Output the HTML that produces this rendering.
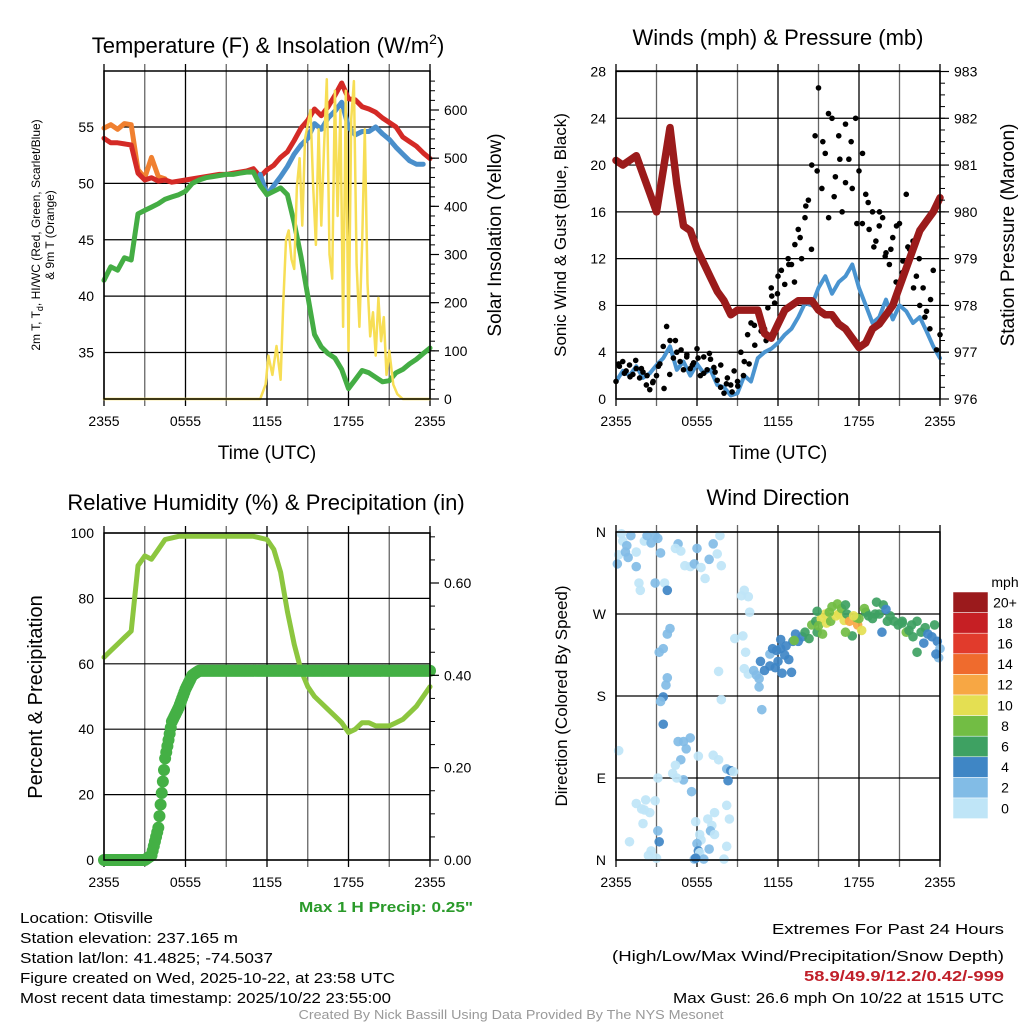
<!DOCTYPE html>
<html><head><meta charset="utf-8"><style>
html,body{margin:0;padding:0;background:#fff}
svg{display:block;font-family:"Liberation Sans",sans-serif}
</style></head><body>
<svg id="fig" width="1024" height="1024" viewBox="0 0 1024 1024" xmlns="http://www.w3.org/2000/svg">
<rect width="1024" height="1024" fill="#fff"/>
<g id="p1"></g>
<g id="p2"></g>
<g id="p3"></g>
<g id="p4"></g>

<text x="268" y="53" font-size="22" text-anchor="middle">Temperature (F) &amp; Insolation (W/m<tspan font-size="14" dy="-9">2</tspan><tspan dy="9">)</tspan></text>
<text x="778" y="45" font-size="22" text-anchor="middle">Winds (mph) &amp; Pressure (mb)</text>
<text x="266" y="510" font-size="22" text-anchor="middle">Relative Humidity (%) &amp; Precipitation (in)</text>
<text x="778" y="505" font-size="22" text-anchor="middle">Wind Direction</text>

<text x="267" y="459" font-size="19" text-anchor="middle">Time (UTC)</text>
<text x="778" y="459" font-size="19" text-anchor="middle">Time (UTC)</text>

<text transform="translate(40,235) rotate(-90)" font-size="12" text-anchor="middle">2m T, T<tspan font-size="9" dy="3">d</tspan><tspan dy="-3">, HI/WC (Red, Green, Scarlet/Blue)</tspan></text>
<text transform="translate(54,235) rotate(-90)" font-size="12" text-anchor="middle">&amp; 9m T (Orange)</text>
<text transform="translate(501,235) rotate(-90)" font-size="19" text-anchor="middle">Solar Insolation (Yellow)</text>
<text transform="translate(566,235) rotate(-90)" font-size="17" text-anchor="middle">Sonic Wind &amp; Gust (Blue, Black)</text>
<text transform="translate(1014,235) rotate(-90)" font-size="19" text-anchor="middle">Station Pressure (Maroon)</text>
<text transform="translate(42,697) rotate(-90)" font-size="20" text-anchor="middle">Percent &amp; Precipitation</text>
<text transform="translate(567,696) rotate(-90)" font-size="17" text-anchor="middle">Direction (Colored By Speed)</text>

<text x="386" y="912" font-size="15" font-weight="bold" fill="#2a9a2a" text-anchor="middle" textLength="174" lengthAdjust="spacingAndGlyphs">Max 1 H Precip: 0.25"</text>

<g font-size="15">
<text x="20" y="923" textLength="133" lengthAdjust="spacingAndGlyphs">Location: Otisville</text>
<text x="20" y="943" textLength="218" lengthAdjust="spacingAndGlyphs">Station elevation: 237.165 m</text>
<text x="20" y="963" textLength="253" lengthAdjust="spacingAndGlyphs">Station lat/lon: 41.4825; -74.5037</text>
<text x="20" y="983" textLength="375" lengthAdjust="spacingAndGlyphs">Figure created on Wed, 2025-10-22, at 23:58 UTC</text>
<text x="20" y="1003" textLength="371" lengthAdjust="spacingAndGlyphs">Most recent data timestamp: 2025/10/22 23:55:00</text>
</g>
<g font-size="15" text-anchor="end">
<text x="1004" y="934" textLength="232" lengthAdjust="spacingAndGlyphs">Extremes For Past 24 Hours</text>
<text x="1004" y="961" textLength="392" lengthAdjust="spacingAndGlyphs">(High/Low/Max Wind/Precipitation/Snow Depth)</text>
<text x="1004" y="981" fill="#c0202a" font-weight="bold" textLength="200" lengthAdjust="spacingAndGlyphs">58.9/49.9/12.2/0.42/-999</text>
<text x="1004" y="1003" textLength="331" lengthAdjust="spacingAndGlyphs">Max Gust: 26.6 mph On 10/22 at 1515 UTC</text>
</g>
<text x="511" y="1019" font-size="13" fill="#999" text-anchor="middle" textLength="425" lengthAdjust="spacingAndGlyphs">Created By Nick Bassill Using Data Provided By The NYS Mesonet</text>
</svg>
<script>
// ---------- DATA (half-hourly, hours 0..24 from 2355 UTC) ----------
const xTickLabels = ["2355","0555","1155","1755","2355"];
const tempTicks = [35,40,45,50,55];
const insolTicks = [0,100,200,300,400,500,600];
const windTicks = [0,4,8,12,16,20,24,28];
const presTicks = [976,977,978,979,980,981,982,983];
const rhTicks = [0,20,40,60,80,100];
const precipTicks = [0,0.2,0.4,0.6];
const dirLabels = ["N","E","S","W","N"];
const dirTicks = [0,90,180,270,360];
const speedBinLabels = ["0","2","4","6","8","10","12","14","16","18","20+"];
const speedColors = ["#bfe5f7","#82bce6","#3f86c5","#3ea162","#72bd44","#e4df52","#f7a744","#ef6b2d","#e13b2c","#c61f24","#9b1a1c"];

const tempRed = [54.0,53.6,53.6,53.5,53.4,50.9,50.3,50.5,50.2,50.3,50.1,50.2,50.3,50.4,50.5,50.6,50.7,50.8,50.8,50.9,51.0,51.1,51.3,50.6,51.2,51.6,52.3,52.8,53.8,54.9,55.6,56.6,56.0,56.8,57.8,58.9,57.5,57.4,56.8,56.6,56.3,55.8,55.4,55.0,54.1,53.7,53.3,52.7,52.2];
const temp9m = [54.9,55.2,54.8,55.3,55.2,51.2,50.5,52.3,50.6,50.4];
const dewGreen = [41.4,42.6,42.3,43.4,43.2,47.3,47.6,47.9,48.2,48.6,48.8,49.0,49.3,50.0,50.3,50.5,50.6,50.7,50.8,50.8,50.9,51.0,51.0,49.8,49.0,49.3,49.6,49.0,46.5,43.5,40.0,36.6,35.5,34.9,34.5,33.5,31.8,32.6,33.4,33.2,32.8,32.4,32.5,33.2,33.5,34.0,34.4,34.9,35.4];
const hiBlueStart = 23; // index (hour 11.5)
const hiBlue = [50.8,49.0,49.8,50.6,51.5,52.6,53.4,54.0,55.3,54.8,55.8,56.4,57.2,55.0,54.3,54.6,54.6,55.0,54.4,53.9,53.2,52.6,52.0,51.7,51.7];
const insolHours = [0,11.5,11.9,12.1,12.4,12.7,13.0,13.2,13.4,13.6,13.8,14.0,14.2,14.4,14.6,14.8,15.0,15.2,15.4,15.6,15.8,16.0,16.2,16.4,16.6,16.8,17.0,17.2,17.4,17.6,17.8,18.0,18.2,18.4,18.6,18.8,19.0,19.2,19.4,19.6,19.8,20.0,20.2,20.4,20.6,20.8,21.0,21.3,21.6,22,24];
const insolVals = [0,0,30,90,50,110,40,200,330,350,290,270,440,500,360,540,570,600,440,320,560,360,520,664,300,250,640,380,600,150,640,100,580,660,280,150,320,560,240,130,180,90,210,120,170,50,100,30,10,0,0];

const windBlue = [1.5,2.4,2.0,2.8,1.8,2.2,2.9,3.5,4.5,2.5,3.2,2.0,3.0,2.2,2.5,1.2,1.0,0.3,0.5,2.0,1.5,3.5,4.0,4.3,4.8,5.5,6.0,7.0,8.2,8.0,9.5,10.5,9.0,10.0,10.5,11.5,9.5,8.0,6.5,7.0,8.5,6.8,8.0,7.5,6.5,7.0,5.8,4.5,3.5];
const pressure = [981.1,981.0,981.1,981.2,980.8,980.4,980.0,980.9,981.8,980.6,979.7,979.6,979.2,978.9,978.6,978.3,978.1,977.8,977.9,977.9,977.9,977.9,977.4,977.3,977.6,977.9,978.0,978.1,978.1,978.1,977.9,977.8,977.8,977.6,977.5,977.3,977.1,977.2,977.5,977.6,977.8,978.0,978.4,978.8,979.2,979.6,979.8,980.0,980.3];
// gusts every 0.25 h
const gusts = [1.5,2.8,3.2,2.4,2.9,2.1,2.6,1.8,2.3, 1.2,0.8,1.5,2.0, 3.0,4.5,6.2,5.0,3.5,4.0,3.2, 2.5,3.8,2.6,3.1,4.3,2.0,3.6,2.5, 3.4,2.7,1.6,1.0,0.5,1.8,1.2,2.4, 1.5,4.0,3.2,5.5,6.5,6.3,7.5,5.8, 6.0,7.8,9.5,8.2,10.5,11.0,9.8,12.0, 11.5,13.2,14.5,12.0,15.5,17.0,20.0,22.5, 26.6,18.0,21.0,15.5,24.0,19.0,22.5,16.0, 23.5,20.5,18.0,24.0,19.5,15.0,17.5,14.5, 16.0,13.5,14.8,15.5,12.5,11.5,13.8,10.0, 15.0,11.8,17.5,12.8,13.5,10.5,8.0,9.5, 7.5,6.0,11.0,4.2,5.5];
const gusts2 = [3.0,2.2,1.9,3.3,2.6,2.0,1.4,2.8, 0.9,2.1,5.0,4.2,3.6,2.9,3.5,2.2, 3.9,2.3,2.9,1.3,0.6,1.1,2.0,3.0, 4.6,6.8,5.0,8.8,9.0,7.2,11.5,10.0, 13.8,16.5,12.8,19.5,22.0,24.4,17.3,20.5, 18.5,22.0,15.0,21.0,16.8,13.0,16.0,12.2, 12.8,14.8,10.8,13.0,9.5,12.0,7.0,8.5];

const rh = [62,64,66,68,70,90,93,92,95,98,98.5,99,99,99,99,99,99,99,99,99,99,99,99,98.5,98,95,88,76,66,58,53,50,48,46,44,42,39,40,42,42,41,41,41,42,43,45,47,50,53];
const precip = [0,0,0,0,0,0,0,0.01,0.07,0.22,0.30,0.33,0.37,0.40,0.41,0.41,0.41,0.41,0.41,0.41,0.41,0.41,0.41,0.41,0.41,0.41,0.41,0.41,0.41,0.41,0.41,0.41,0.41,0.41,0.41,0.41,0.41,0.41,0.41,0.41,0.41,0.41,0.41,0.41,0.41,0.41,0.41,0.41,0.41];

const dirHours = [0.1,0.2,0.4,0.5,0.8,0.7,1.1,0.9,1.5,1.7,1.8,1.5,2.1,2.3,2.6,2.9,3.1,3.3,3.6,3.8,2.9,4.6,4.4,4.8,5.1,5.5,5.8,6,6.3,6.6,6.9,7.2,7.5,7.8,7.7,
3.5,3.2,3.8,4,3.7,3.5,3.8,3.3,3.5,4.6,5,5.2,5.5,4.8,4.4,5.0,4.5,3.1,4.2,6.1,7.2,7.6,8.2,8.5,8.7,8.3,7.8,7.6,0.2,
1.5,1.9,2.2,2.1,2.5,2.9,2.0,3.1,3.2,1,2.6,2.4,3.0,5.6,5.9,6.8,7.1,7.3,8.4,8.2,6.2,6.3,6.0,6.1,6.2,6.5,6.9,5.8,5.9,7.0,7.3,8.2,8.0,
9.3,9.5,9.8,9.9,9.4,9.6,8.8,9.5,9.8,10.2,10.6,10.6,10.8,10.4,10.7,
11.0,11.4,11.8,12.3,12.0,12.2,11.4,11.9,12.6,13.1,13.5,13.3,13.8,14.0,14.3,12.8,13.0,12.5,11.6,12.2,13.2,
14.5,14.8,14.9,15.2,15.0,15.5,15.6,15.9,16.0,16.3,16.5,16.7,16.9,17.1,17.3,17.5,17.9,18.0,18.2,17.8,17.6,15.8,14.9,16.4,17.0,18.5,18.4,18.7,19.0,19.2,19.5,19.3,19.8,20.1,20.3,19.7,20.0,17.0,15.3,
20.6,20.9,21.2,21.5,21.7,21.9,22.0,22.3,22.6,22.9,23.1,23.4,23.6,23.8,24.0,23.9,23.7,22.8,22.3,21.2];
const dirDeg = [325,335,358,350,345,338,356,332,322,304,296,338,350,356,348,356,353,337,304,296,304,347,342,339,323,322,325,342,321,309,330,347,336,323,356,
232,228,248,254,192,179,200,174,149,130,130,122,134,110,104,88,90,90,95,114,115,110,100,98,97,87,176,207,120,
62,56,66,55,52,65,40,32,20,20,10,5,2,75,42,45,38,52,45,60,28,22,18,10,8,1,12,1,2,32,28,15,1,
290,296,289,272,246,228,243,210,204,208,199,190,165,203,218,
208,213,211,205,218,232,226,230,235,240,240,248,245,250,243,220,206,225,232,242,241,
258,262,250,265,257,270,260,262,278,268,270,276,263,270,262,246,258,265,252,266,268,272,273,281,280,272,276,268,265,270,270,283,280,262,268,250,275,250,248,
262,258,262,250,252,258,245,262,250,255,248,245,258,240,232,222,226,238,228,260];
const dirSpd = [2,1,0,1,3,2,3,3,3,1,1,0,1,3,3,3,3,3,0,4,3,3,1,0,1,0,3,2,1,1,3,3,1,1,0,
3,3,3,3,3,4,3,2,4,3,3,3,3,3,1,3,1,1,1,1,1,1,3,4,1,4,1,1,1,
1,1,1,1,1,1,1,2,4,1,1,1,1,2,1,1,1,1,1,1,1,1,2,4,1,2,3,3,4,2,1,1,1,
1,1,1,1,1,1,1,1,1,2,2,2,2,3,4,
4,4,4,4,4,4,2,4,4,4,4,4,4,6,6,4,4,4,4,4,8,
8,6,6,10,8,10,10,8,8,10,10,8,10,6,12,6,12,8,10,8,10,8,6,8,6,6,8,6,6,6,6,6,6,6,6,4,4,8,8,
6,6,6,8,6,6,6,6,6,6,4,4,6,4,2,2,4,4,6,6];

// ---------- helpers ----------
const NS = "http://www.w3.org/2000/svg";
function mk(parent, tag, attrs){
  const e = document.createElementNS(NS, tag);
  for (const k in attrs) e.setAttribute(k, attrs[k]);
  parent.appendChild(e);
  return e;
}
function linScale(d0,d1,r0,r1){ return v => r0 + (v-d0)/(d1-d0)*(r1-r0); }

function frame(g, X0, X1, Y0, Y1, hLines, yScale){
  for (let h=0; h<=24; h+=3){
    const x = X0 + h/24*(X1-X0);
    const l = mk(g,'line',{x1:x,x2:x,y1:Y0-7,y2:Y1+7,stroke:(h%6===0?'#000':'#666'),'stroke-width':1.3});
    
    
  }
  hLines.forEach(v=>{
    const y = yScale(v);
    const l = mk(g,'line',{x1:X0,x2:X1,y1:y,y2:y,stroke:'#000','stroke-width':1.2});
    
    
  });
  xTickLabels.forEach((t,i)=>{
    const x = X0 + i/4*(X1-X0);
    const tx = mk(g,'text',{x:x,y:Y1+27,'font-size':14,'text-anchor':'middle'});
    tx.textContent = t;
    
    
  });
}
function border(g, X0,X1,Y0,Y1){
  const b = mk(g,'rect',{x:X0,y:Y0,width:X1-X0,height:Y1-Y0,fill:'none',stroke:'#000','stroke-width':1.5});
  
  
}
function leftTicks(g, vals, yScale, X0, fmt){
  vals.forEach(v=>{
    const t = mk(g,'text',{x:X0-10,y:yScale(v)+5,'font-size':14,'text-anchor':'end'});
    t.textContent = fmt ? fmt(v) : v;
    
    
  });
}
function rightTicks(g, vals, yScale, X1, fmt, minorStep, lo, hi){
  if (minorStep){
    for (let v=lo; v<=hi+1e-9; v+=minorStep){
      const y=yScale(v);
      const m = mk(g,'line',{x1:X1,x2:X1+5,y1:y,y2:y,stroke:'#000','stroke-width':1});
      
      
    }
  }
  vals.forEach(v=>{
    const y=yScale(v);
    mk(g,'line',{x1:X1,x2:X1+9,y1:y,y2:y,stroke:'#000','stroke-width':1.2});
    const t = mk(g,'text',{x:X1+14,y:y+5,'font-size':14,'text-anchor':'start'});
    t.textContent = fmt ? fmt(v) : v;
    
    
  });
}
function polyline(g, hours, vals, xS, yS, color, w, name){
  const pts = vals.map((v,i)=> xS(hours[i]).toFixed(1)+','+yS(v).toFixed(1)).join(' ');
  const p = mk(g,'polyline',{points:pts,fill:'none',stroke:color,'stroke-width':w,'stroke-linejoin':'round','stroke-linecap':'round'});
  
  
  return p;
}
const halfHours = tempRed.map((_,i)=>i*0.5);

// ---------- Panel 1 ----------
(function(){
  const g = document.getElementById('p1');
  const X0=104,X1=430,Y0=71,Y1=399;
  const xS = linScale(0,24,X0,X1);
  const yT = linScale(35,55,352.5,127);
  const yI = linScale(0,600,399,110);
  frame(g,X0,X1,Y0,Y1,tempTicks,yT);
  polyline(g, halfHours.slice(0,temp9m.length), temp9m, xS, yT, '#f08030', 5, 'temp-9m-line');
  polyline(g, halfHours, tempRed, xS, yT, '#d42a26', 5, 'temp-2m-line');
  polyline(g, halfHours.slice(hiBlueStart), hiBlue, xS, yT, '#4a8fcb', 5, 'heat-index-line');
  polyline(g, halfHours, dewGreen, xS, yT, '#44ad44', 5, 'dewpoint-line');
  polyline(g, insolHours, insolVals, xS, yI, '#f7de55', 2.5, 'insolation-line');
  border(g,X0,X1,Y0,Y1);
  leftTicks(g,tempTicks,yT,X0);
  rightTicks(g,insolTicks,yI,X1,null,20,0,660);
})();

// ---------- Panel 2 ----------
(function(){
  const g = document.getElementById('p2');
  const X0=616,X1=940,Y0=71,Y1=399;
  const xS = linScale(0,24,X0,X1);
  const yW = linScale(0,28,399,71.5);
  const yP = linScale(976,983,399,71.5);
  frame(g,X0,X1,Y0,Y1,windTicks,yW);
  polyline(g, halfHours, windBlue, xS, yW, '#4a94d0', 4, 'sustained-wind-line');
  gusts.forEach((v,i)=>{
    const c = mk(g,'circle',{cx:xS(i*0.25),cy:yW(v),r:2.8,fill:'#000'});
    
    
  });
  gusts2.forEach((v,i)=>{
    const c = mk(g,'circle',{cx:xS(0.2+i*0.42),cy:yW(v),r:2.8,fill:'#000'});
    
    
  });
  polyline(g, halfHours, pressure, xS, yP, '#9b1b1b', 7.5, 'pressure-line');
  border(g,X0,X1,Y0,Y1);
  leftTicks(g,windTicks,yW,X0);
  rightTicks(g,presTicks,yP,X1,null,0.25,976,983);
})();

// ---------- Panel 3 ----------
(function(){
  const g = document.getElementById('p3');
  const X0=104,X1=430,Y0=533,Y1=860;
  const xS = linScale(0,24,X0,X1);
  const yR = linScale(0,100,860,533);
  const yQ = linScale(0,0.6,860,583);
  frame(g,X0,X1,Y0,Y1,rhTicks,yR);
  polyline(g, halfHours, rh, xS, yR, '#8cc63f', 5, 'rh-line');
  for (let i=0;i<precip.length;i++){
    const steps = (i<precip.length-1)?6:1;
    for (let s=0;s<steps;s++){
      const v = (i<precip.length-1)? precip[i]+(precip[i+1]-precip[i])*s/steps : precip[i];
      const c = mk(g,'circle',{cx:xS(i*0.5+s*0.5/steps),cy:yQ(v),r:6,fill:'#44b045'});
      
      
    }
  }
  border(g,X0,X1,Y0,Y1);
  leftTicks(g,rhTicks,yR,X0);
  rightTicks(g,precipTicks,yQ,X1,v=>v.toFixed(2),0.05,0,0.7);
})();

// ---------- Panel 4 ----------
(function(){
  const g = document.getElementById('p4');
  const X0=616,X1=940,Y0=532,Y1=860;
  const xS = linScale(0,24,X0,X1);
  const yD = linScale(0,360,860,532);
  frame(g,X0,X1,Y0,Y1,dirTicks,yD);
  dirHours.forEach((h,i)=>{
    const bin = Math.min(10, Math.floor(dirSpd[i]/2));
    const c = mk(g,'circle',{cx:xS(h),cy:yD(dirDeg[i]),r:4.8,fill:speedColors[bin],'fill-opacity':0.92});
    
    
  });
  border(g,X0,X1,Y0,Y1);
  dirTicks.forEach((v,i)=>{
    const t = mk(g,'text',{x:X0-10,y:yD(v)+5,'font-size':14,'text-anchor':'end'});
    t.textContent = dirLabels[i];
    
    
  });
  const cb = mk(g,'g',{});
  
  
  const top=592, bh=20.6;
  const u = mk(cb,'text',{x:1005,y:587,'font-size':14,'text-anchor':'middle'});
  u.textContent='mph';
  
  
  speedBinLabels.forEach((lab,i)=>{
    const k = 10-i;
    const y = top + i*bh;
    const r = mk(cb,'rect',{x:953,y:y,width:35,height:bh,fill:speedColors[k],stroke:'#fff','stroke-width':0.5});
    
    
    const t = mk(cb,'text',{x:1005,y:y+bh/2+5,'font-size':14,'text-anchor':'middle'});
    t.textContent = speedBinLabels[k];
    
    
  });
})();
</script>
</body></html>
